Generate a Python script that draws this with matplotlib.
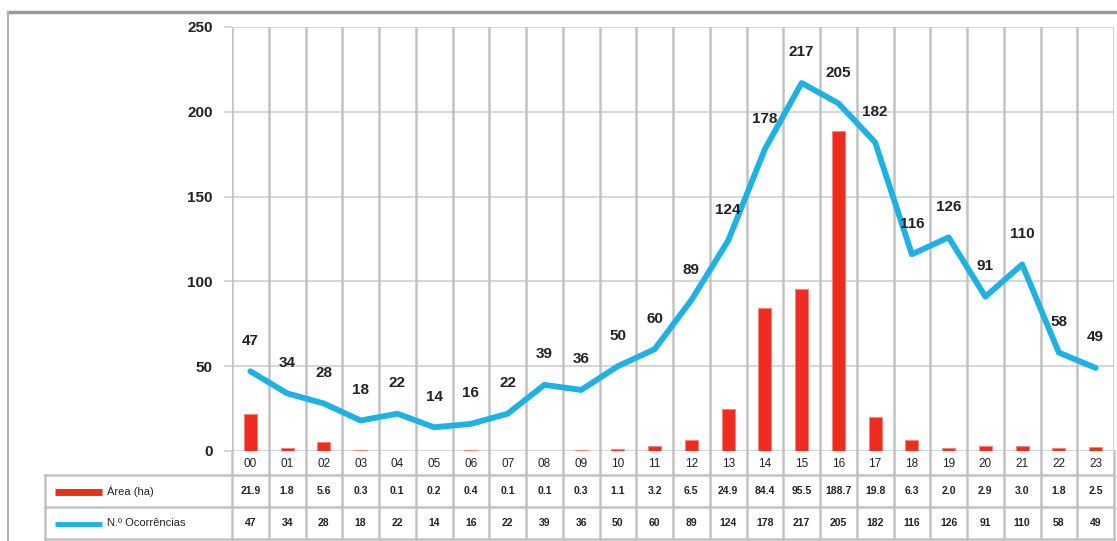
import matplotlib.pyplot as plt
from matplotlib.lines import Line2D

# data
hours = ["00", "01", "02", "03", "04", "05", "06", "07", "08", "09", "10", "11",
         "12", "13", "14", "15", "16", "17", "18", "19", "20", "21", "22", "23"]
area_ha = [21.9, 1.8, 5.6, 0.3, 0.1, 0.2, 0.4, 0.1, 0.1, 0.3, 1.1, 3.2,
           6.5, 24.9, 84.4, 95.5, 188.7, 19.8, 6.3, 2.0, 2.9, 3.0, 1.8, 2.5]
ocorrencias = [47, 34, 28, 18, 22, 14, 16, 22, 39, 36, 50, 60,
               89, 124, 178, 217, 205, 182, 116, 126, 91, 110, 58, 49]
y_ticks = [0, 50, 100, 150, 200, 250]

red = '#ee2b1f'
blue = '#1eb1e3'
grid_c = '#d0d0d0'
vgrid_c = '#c2c2c2'
txt_c = '#222222'
font = 'Liberation Sans'

W, H = 1117, 541
fig = plt.figure(figsize=(W / 100, H / 100), dpi=100)

# pixel layout
x0, x1 = 232, 1114
y_top, y_zero = 27, 451
ax = fig.add_axes([x0 / W, 1 - y_zero / H, (x1 - x0) / W, (y_zero - y_top) / H])

n = len(hours)
xs = list(range(n))
ax.bar(xs, area_ha, width=0.35, color=red, edgecolor='#f4857d', linewidth=0.8, zorder=3)
ax.plot(xs, ocorrencias, color=blue, linewidth=4.2, solid_joinstyle='round',
        solid_capstyle='round', zorder=4)
for x, v in zip(xs, ocorrencias):
    ax.annotate(str(v), (x, v), xytext=(0, 22), textcoords='offset points',
                ha='center', va='center', fontsize=11, fontweight='bold',
                color=txt_c, family=font, zorder=5)

ax.set_xlim(-0.5, n - 0.5)
ax.set_ylim(0, 250)
ax.set_yticks(y_ticks)
ax.set_yticklabels([str(t) for t in y_ticks], fontsize=11, fontweight='bold',
                   color=txt_c, family=font)
ax.tick_params(axis='y', length=6, color=grid_c, width=1.2, pad=8)
ax.set_xticks([])
for t in y_ticks:
    ax.axhline(t, color=grid_c, linewidth=1.2, zorder=1)
for b in range(n + 1):
    ax.axvline(b - 0.5, color=vgrid_c, linewidth=1.8, zorder=1)
for s in ax.spines.values():
    s.set_visible(False)

# data table underneath
legend_w = (x0 - 45) / ((x1 - x0) / n)
tb = fig.add_axes([x0 / W, 1 - 539 / H, (x1 - x0) / W, (539 - y_zero) / H])
tb.set_xlim(-0.5, n - 0.5)
tb.set_ylim(88, 0)
tb.axis('off')
left = -0.5 - legend_w
for b in range(n + 1):
    tb.plot([b - 0.5, b - 0.5], [0, 88], color=vgrid_c, linewidth=1.8, clip_on=False)
tb.plot([left, left], [24, 88], color=vgrid_c, linewidth=1.8, clip_on=False)
for yy in [24, 56, 88]:
    tb.plot([left, n - 0.5], [yy, yy], color=vgrid_c, linewidth=1.8, clip_on=False)

for x, h in zip(xs, hours):
    tb.text(x, 13, h, ha='center', va='center', fontsize=8.5, color=txt_c, family=font)
for x, v in zip(xs, area_ha):
    tb.text(x, 40, f"{v:.1f}", ha='center', va='center', fontsize=7.5,
            fontweight='bold', color=txt_c, family=font)
for x, v in zip(xs, ocorrencias):
    tb.text(x, 72, str(v), ha='center', va='center', fontsize=7.5,
            fontweight='bold', color=txt_c, family=font)

# legend keys inside the table
k0 = left + 10 / 36.75
k1 = left + 57 / 36.75
tb.plot([k0, k1], [41, 41], color=red, linewidth=5, solid_capstyle='butt', clip_on=False)
tb.plot([k0, k1], [73, 73], color=blue, linewidth=3.5, solid_capstyle='butt', clip_on=False)
tb.text(left + 62 / 36.75, 40, "Área (ha)", ha='left', va='center', fontsize=8,
        color=txt_c, family=font)
tb.text(left + 62 / 36.75, 72, "N.º Ocorrências", ha='left', va='center', fontsize=8,
        color=txt_c, family=font)

# outer chart frame
fig.add_artist(Line2D([8 / W, 1], [1 - 12 / H, 1 - 12 / H], color='#9a9a9a', linewidth=2.5))
fig.add_artist(Line2D([8 / W, 8 / W], [0, 1 - 12 / H], color='#b0b0b0', linewidth=1.5))

fig.savefig('out.png', dpi=100)
